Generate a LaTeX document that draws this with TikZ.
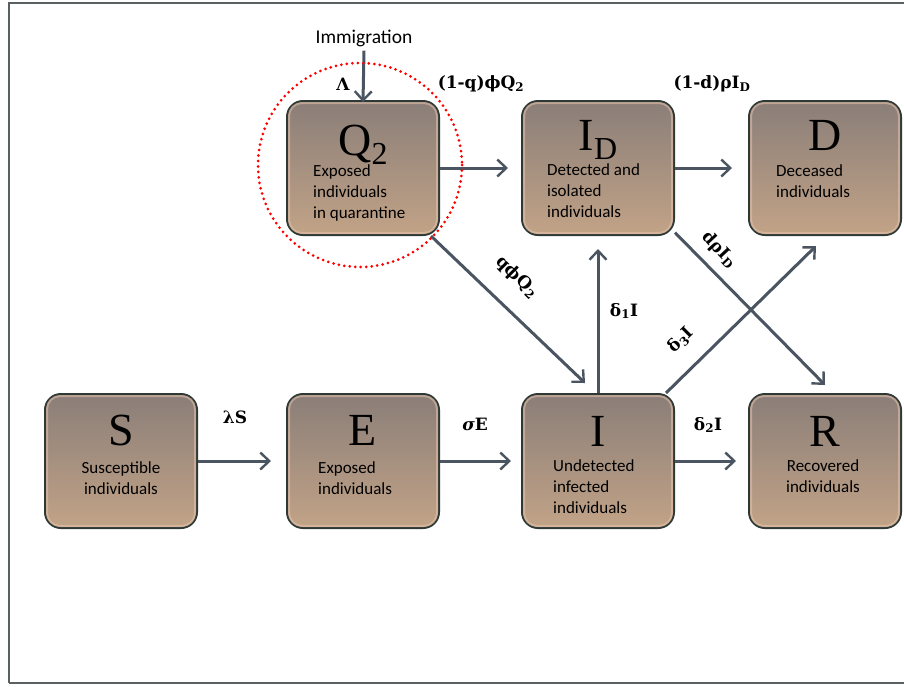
\documentclass[tikz,border=0pt]{standalone}
\usepackage{fontspec}
\newfontfamily\calib{Carlito}
\newfontfamily\bigserif{Liberation Serif}
\newfontfamily\rateserif{DejaVu Serif}
\usepackage{tikz}
\usetikzlibrary{arrows.meta,calc}

\definecolor{boxtop}{HTML}{8A7E78}
\definecolor{boxbot}{HTML}{C2A387}
\definecolor{boxedge}{HTML}{2E3834}
\definecolor{bevelcol}{HTML}{E8C4AE}
\definecolor{flowcol}{HTML}{4A5561}
\definecolor{framegray}{HTML}{5A5F62}

\newcommand{\sbig}[1]{\raisebox{-9pt}{\fontsize{32}{34}\selectfont #1}}

\begin{document}
\begin{tikzpicture}[
    x=1pt,
    y=-1pt,
    comp/.style={
        rectangle,
        rounded corners=16pt,
        minimum width=152pt,
        minimum height=134pt,
        draw=boxedge,
        line width=2pt,
        top color=boxtop,
        bottom color=boxbot
    },
    bevel/.style={
        draw=bevelcol,
        line width=2pt,
        rounded corners=13pt,
        opacity=0.55
    },
    big/.style={
        font=\bigserif\fontsize{46}{50}\selectfont,
        inner sep=0pt,
        anchor=base
    },
    desc/.style={
        font=\calib\fontsize{17}{21}\selectfont,
        inner sep=0pt,
        align=left,
        anchor=north west
    },
    rate/.style={
        font=\rateserif\fontsize{17}{19}\selectfont\bfseries,
        inner sep=0pt
    },
    flow/.style={
        draw=flowcol,
        line width=3pt,
        -{Straight Barb[length=9pt,width=17pt,line width=2.4pt]}
    }
]

\useasboundingbox (0,0) rectangle (904,686);
\draw[framegray, line width=1.5pt] (904,3) -- (9,3) -- (9,683);
\draw[framegray, line width=2.5pt] (9,683) -- (904,683);


\node[comp] (Q2) at (363,168) {};
\node[comp] (ID) at (598,168) {};
\node[comp] (D) at (825,168) {};
\node[comp] (S) at (121,461) {};
\node[comp] (E) at (363,461) {};
\node[comp] (I) at (598,461) {};
\node[comp] (R) at (825,461) {};

\foreach \b in {Q2,ID,D,S,E,I,R}
    \draw[bevel] ($(\b.north west)+(3,3)$) rectangle ($(\b.south east)+(-3,-3)$);


\node[big] (Q2-l) at (363,155) {Q\sbig{2}};
\node[big] (ID-l) at (598,150) {I\sbig{D}};
\node[big] (D-l) at (825,150) {D};
\node[big] (S-l) at (121,445) {S};
\node[big] (E-l) at (363,445) {E};
\node[big] (I-l) at (598,446) {I};
\node[big] (R-l) at (825,446) {R};


\node[desc] (Q2-t) at (313,164) {Exposed\\individuals\\in quarantine};
\node[desc] (ID-t) at (547,163) {Detected and\\isolated\\individuals};
\node[desc] (D-t) at (776,164) {Deceased\\individuals};
\node[desc, anchor=north, align=center] (S-t) at (121,461) {Susceptible\\individuals};
\node[desc] (E-t) at (318,461) {Exposed\\individuals};
\node[desc] (I-t) at (553,459) {Undetected\\infected\\individuals};
\node[desc, anchor=north, align=center] (R-t) at (823,459) {Recovered\\individuals};


\node[font=\calib\fontsize{19.5}{22}\selectfont, inner sep=0pt] (imm) at (364,38) {Immigration};
\draw[flow] (imm.south) ++(0,4) -- ([yshift=-2pt]Q2.north);
\node[rate] (Lam) at (343,84) {Λ};


\draw[flow] (S.east) -- ([xshift=-15pt]E.west);
\draw[flow] (E.east) -- ([xshift=-10pt]I.west);
\draw[flow] (I.east) -- ([xshift=-12pt]R.west);
\draw[flow] (Q2.east) -- ([xshift=-13pt]ID.west);
\draw[flow] (ID.east) -- ([xshift=-16pt]D.west);
\draw[flow] (I.north) -- ([yshift=-13pt]ID.south);
\draw[flow] (Q2.-45) -- ($(I.north)+(-13,-10)$);
\draw[flow] (ID.-40) -- ($(R.north)+(0,-8)$);
\draw[flow] ($(I.north east)+(-9,0)$) -- ($(D.south)+(-9,10)$);


\node[rate] (lS) at (235,417) {λS};
\node[rate] (sE) at (475,424) {\textit{σ}E};
\node[rate] (d2I) at (708,425) {δ\textsubscript{2}I};
\node[rate] (d1I) at (624,311) {δ\textsubscript{1}I};
\node[rate] (qQ) at (481,84) {(1-q)ϕQ\textsubscript{2}};
\node[rate] (dID) at (712,84) {(1-d)ρI\textsubscript{D}};
\node[rate, rotate=-45] (qpQ) at (517,277) {qϕQ\textsubscript{2}};
\node[rate, rotate=-47] (dpI) at (719,250) {dρI\textsubscript{D}};
\node[rate, rotate=45] (d3I) at (681,340) {δ\textsubscript{3}I};


\draw[red, line width=3pt, line cap=round, dash pattern=on 0pt off 5.5pt] (360,165) circle (102);

\end{tikzpicture}
\end{document}
